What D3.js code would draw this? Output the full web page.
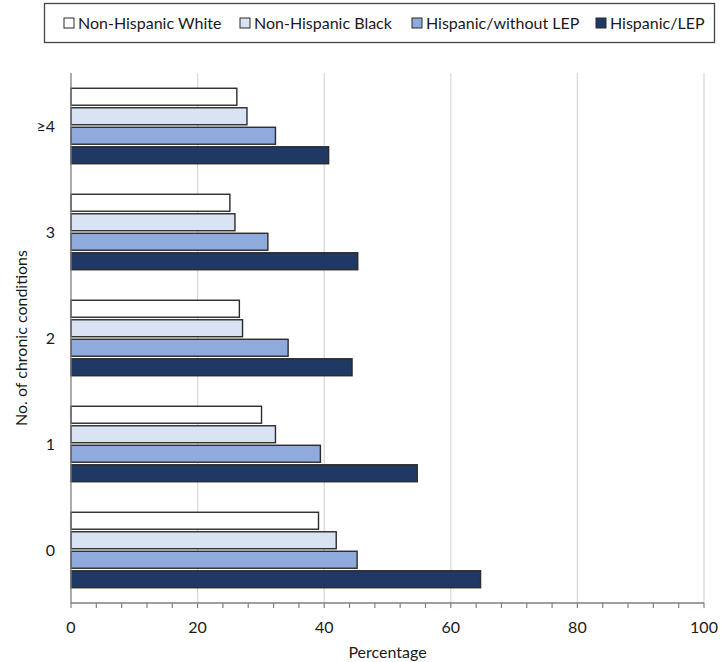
<!DOCTYPE html>
<html>
<head>
<meta charset="utf-8">
<script src="https://cdn.jsdelivr.net/npm/d3@7"></script>
<style>
  body { margin: 0; background: #fff; }
  svg { display: block; font-family: Lato, "Open Sans", sans-serif; }
</style>
</head>
<body>
<svg id="chart" width="727" height="662"></svg>
<script>
const categories = ["≥4", "3", "2", "1", "0"];
const seriesNames = ["Non-Hispanic White", "Non-Hispanic Black", "Hispanic/without LEP", "Hispanic/LEP"];
const seriesColors = ["#ffffff", "#dae3f3", "#8faadc", "#203864"];
const nonHispanicWhite = [26.2, 25.1, 26.6, 30.1, 39.1];
const nonHispanicBlack = [27.8, 25.9, 27.1, 32.3, 41.9];
const hispanicWithoutLEP = [32.3, 31.1, 34.3, 39.4, 45.2];
const hispanicLEP = [40.7, 45.3, 44.4, 54.7, 64.7];
const xTicks = [0, 20, 40, 60, 80, 100];
const xMinorTicks = d3.range(0, 101, 4);

const seriesValues = [nonHispanicWhite, nonHispanicBlack, hispanicWithoutLEP, hispanicLEP];

const svg = d3.select("#chart");
const mLeft = 71, mRight = 704, mTop = 73, mBottom = 603;
const textColor = "#1a1a1a";

const x = d3.scaleLinear().domain([0, 100]).range([mLeft, mRight]);
const y0 = d3.scaleBand().domain(categories).range([mTop, mBottom]).paddingInner(0.288).paddingOuter(0.144);
const y1 = d3.scaleBand().domain(seriesNames).range([0, y0.bandwidth()]).paddingInner(0.13).paddingOuter(0);

// gridlines
svg.append("g").selectAll("line").data(xTicks.filter(d => d > 0)).join("line")
  .attr("x1", d => x(d)).attr("x2", d => x(d))
  .attr("y1", mTop).attr("y2", mBottom)
  .attr("stroke", "#d9d9d9").attr("stroke-width", 1.3);

// bars
const groups = svg.append("g").selectAll("g").data(categories).join("g")
  .attr("transform", d => `translate(0,${y0(d)})`);
groups.selectAll("rect")
  .data((c, ci) => seriesNames.map((s, si) => ({ s, si, v: seriesValues[si][ci] })))
  .join("rect")
  .attr("x", x(0))
  .attr("y", d => y1(d.s))
  .attr("width", d => x(d.v) - x(0))
  .attr("height", y1.bandwidth())
  .attr("fill", d => seriesColors[d.si])
  .attr("stroke", "#2b2b2b")
  .attr("stroke-width", 1.4);

// x axis
const xAxis = svg.append("g").attr("transform", `translate(0,${mBottom})`);
xAxis.append("line").attr("x1", mLeft).attr("x2", mRight).attr("stroke", "#7f7f7f").attr("stroke-width", 1.3);
xAxis.selectAll("line.minor").data(xMinorTicks).join("line").attr("class", "minor")
  .attr("x1", d => x(d)).attr("x2", d => x(d)).attr("y1", 0).attr("y2", 5)
  .attr("stroke", "#7f7f7f").attr("stroke-width", 1.2);
xAxis.selectAll("text").data(xTicks).join("text")
  .attr("x", d => x(d)).attr("y", 30)
  .attr("text-anchor", "middle")
  .attr("font-size", 16).attr("fill", textColor)
  .text(d => d);

// y axis
svg.append("line").attr("x1", mLeft).attr("x2", mLeft).attr("y1", mTop).attr("y2", mBottom)
  .attr("stroke", "#7f7f7f").attr("stroke-width", 1.3);
svg.append("g").selectAll("text").data(categories).join("text")
  .attr("x", 55).attr("y", d => y0(d) + y0.bandwidth() / 2)
  .attr("dy", "0.35em").attr("text-anchor", "end")
  .attr("font-size", 16).attr("fill", textColor)
  .text(d => d);

// axis titles
svg.append("text").attr("x", (mLeft + mRight) / 2).attr("y", 658)
  .attr("text-anchor", "middle").attr("font-size", 16).attr("fill", textColor).text("Percentage");
svg.append("text").attr("transform", `translate(27,${(mTop + mBottom) / 2}) rotate(-90)`)
  .attr("text-anchor", "middle").attr("font-size", 16).attr("fill", textColor).text("No. of chronic conditions");

// legend
svg.append("rect").attr("x", 44.5).attr("y", 3.5).attr("width", 670).attr("height", 39)
  .attr("fill", "#fff").attr("stroke", "#444").attr("stroke-width", 1.3);
const legendX = [64, 240, 412, 596];
const legend = svg.append("g").selectAll("g").data(seriesNames).join("g")
  .attr("transform", (d, i) => `translate(${legendX[i]},23)`);
legend.append("rect").attr("x", 0).attr("y", -5).attr("width", 10).attr("height", 10)
  .attr("fill", (d, i) => seriesColors[i]).attr("stroke", "#2b2b2b").attr("stroke-width", 1);
legend.append("text").attr("x", 14).attr("y", 0).attr("dy", "0.35em")
  .attr("font-size", 16).attr("fill", textColor).text(d => d);
</script>
</body>
</html>
